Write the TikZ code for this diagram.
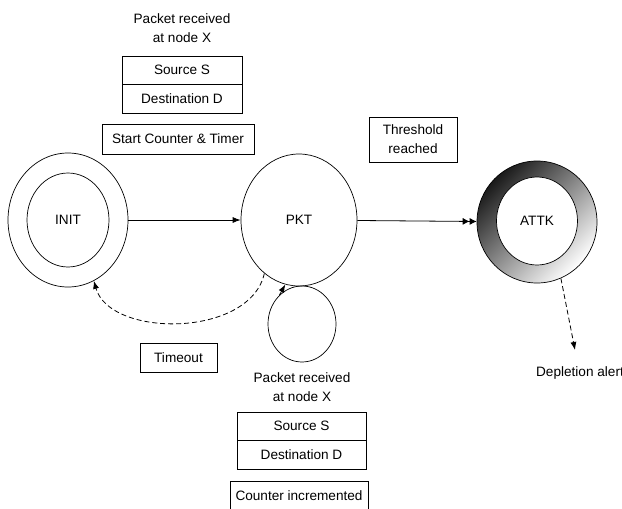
\documentclass[tikz,border=0pt]{standalone}
\usepackage{fontspec}
\setmainfont{Liberation Sans}
\usetikzlibrary{shapes.geometric,arrows.meta}

\begin{document}
\begin{tikzpicture}[x=1pt,y=-1pt,
    every node/.style={font=\fontsize{13.6}{19}\selectfont},
    state/.style={draw,ellipse,line width=0.7pt,inner sep=0pt},
    box/.style={draw,rectangle,line width=0.8pt,inner sep=0pt,align=center},
    lbl/.style={align=center},
    tip/.style={-{Latex[length=8pt,width=6pt]}},
    dtip/.style={-{Latex[length=7pt,width=7pt]Latex[length=7pt,width=7pt]}},
    dash5/.style={dash pattern=on 5pt off 3pt}]
  \useasboundingbox (0,0) rectangle (622,509);
  % states
  \node[state,minimum width=120pt,minimum height=134pt] (init) at (68,220) {};
  \node[state,minimum width=82pt,minimum height=94pt] (initin) at (68,220) {INIT};
  \node[state,minimum width=116pt,minimum height=132pt] (pkt) at (299,220) {PKT};
  \node[state,minimum width=120pt,minimum height=122pt,
        top color=black!90,bottom color=white,shading angle=45] (attk) at (537,222) {};
  \node[state,fill=white,minimum width=81pt,minimum height=88pt] (attkin) at (537,221) {ATTK};
  \node[state,minimum width=68pt,minimum height=76pt] (loop) at (302,324) {};
  % labels and boxes, top
  \node[lbl] (recv1) at (182,28) {Packet received\\at node X};
  \node[box,minimum width=120pt,minimum height=28pt] (src1) at (182,70) {Source S};
  \node[box,minimum width=120pt,minimum height=29pt] (dst1) at (182,98.5) {Destination D};
  \node[box,minimum width=152pt,minimum height=30pt] (start) at (178,139) {Start Counter \& Timer};
  \node[box,minimum width=88pt,minimum height=45pt] (thresh) at (413,139.5) {Threshold\\reached};
  \node[box,minimum width=77pt,minimum height=29pt] (timeout) at (178.5,357.5) {Timeout};
  % labels and boxes, bottom
  \node[lbl] (recv2) at (302,387) {Packet received\\at node X};
  \node[box,minimum width=129pt,minimum height=28pt] (src2) at (301.5,426) {Source S};
  \node[box,minimum width=129pt,minimum height=29pt] (dst2) at (301.5,454.5) {Destination D};
  \node[box,minimum width=138pt,minimum height=30pt] (count) at (299,496) {Counter incremented};
  \node (alert) at (580,373) {Depletion alert};
  \coordinate (alerttip) at (575,350);
  % transitions
  \draw[tip,line width=0.8pt] (init) -- (pkt);
  \draw[dtip,line width=0.8pt] (pkt) -- (attk);
  \draw[tip,dash5,line width=0.8pt] (pkt.237) .. controls (250,338) and (110,338) .. (init.293);
  \draw[tip,line width=0.8pt] (loop.128) -- (pkt.258);
  \draw[tip,dash5,line width=0.8pt] (attk.293) -- (alerttip);
\end{tikzpicture}
\end{document}
